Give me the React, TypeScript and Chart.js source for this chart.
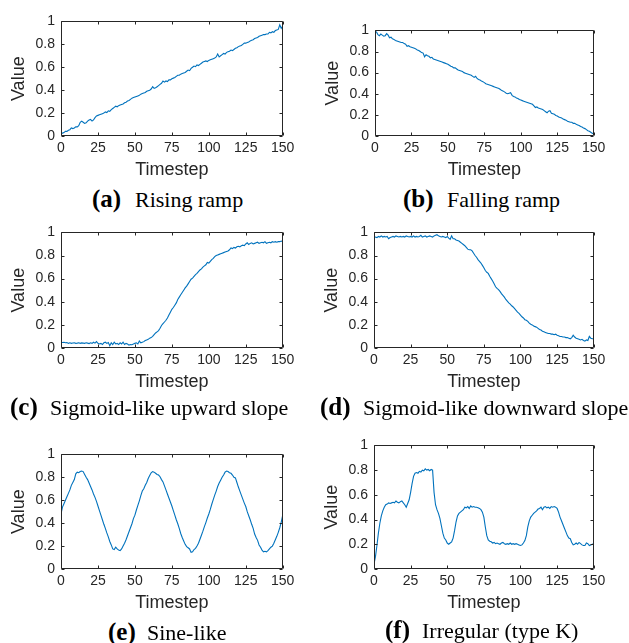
import React, { useEffect, useRef } from "react";
import { Chart, registerables } from "chart.js";

Chart.register(...registerables);

// ---------- data ----------
const timesteps: number[] = Array.from({ length: 151 }, (_, i) => i);
const xTicks = [0, 25, 50, 75, 100, 125, 150];
const xTickLabels = ["0", "25", "50", "75", "100", "125", "150"];
const yTicks = [0, 0.2, 0.4, 0.6, 0.8, 1];
const yTickLabels = ["0", "0.2", "0.4", "0.6", "0.8", "1"];

const risingRamp = [
  0.02, 0.025, 0.03, 0.04, 0.04, 0.05, 0.055, 0.07, 0.065, 0.07,
  0.08, 0.08, 0.09, 0.12, 0.13, 0.12, 0.11, 0.115, 0.13, 0.14,
  0.145, 0.13, 0.14, 0.16, 0.175, 0.18, 0.185, 0.19, 0.195, 0.2,
  0.21, 0.205, 0.22, 0.215, 0.23, 0.24, 0.25, 0.26, 0.255, 0.265,
  0.27, 0.275, 0.28, 0.29, 0.295, 0.305, 0.31, 0.32, 0.33, 0.335,
  0.34, 0.345, 0.35, 0.355, 0.365, 0.37, 0.375, 0.38, 0.39, 0.395,
  0.4, 0.41, 0.43, 0.415, 0.42, 0.43, 0.44, 0.45, 0.46, 0.48,
  0.47, 0.48, 0.475, 0.49, 0.49, 0.5, 0.505, 0.51, 0.52, 0.53,
  0.53, 0.54, 0.545, 0.55, 0.555, 0.565, 0.575, 0.57, 0.59, 0.6,
  0.61, 0.605, 0.62, 0.615, 0.625, 0.635, 0.645, 0.65, 0.655, 0.65,
  0.66, 0.665, 0.67, 0.675, 0.68, 0.69, 0.715, 0.69, 0.7, 0.71,
  0.72, 0.715, 0.73, 0.735, 0.74, 0.75, 0.745, 0.755, 0.765, 0.77,
  0.78, 0.785, 0.79, 0.8, 0.81, 0.81, 0.815, 0.82, 0.83, 0.835,
  0.84, 0.85, 0.855, 0.86, 0.87, 0.875, 0.88, 0.885, 0.885, 0.89,
  0.89, 0.905, 0.9, 0.91, 0.905, 0.92, 0.925, 0.93, 0.97, 0.94,
  0.96,
];

const fallingRamp = [
  0.99, 0.985, 0.96, 0.95, 0.965, 0.955, 0.945, 0.95, 0.97, 0.955,
  0.93, 0.935, 0.92, 0.915, 0.905, 0.9, 0.895, 0.89, 0.885, 0.885,
  0.875, 0.87, 0.85, 0.855, 0.845, 0.84, 0.835, 0.83, 0.825, 0.815,
  0.81, 0.8, 0.79, 0.785, 0.75, 0.77, 0.76, 0.755, 0.74, 0.745,
  0.73, 0.725, 0.72, 0.715, 0.71, 0.705, 0.7, 0.695, 0.69, 0.685,
  0.68, 0.67, 0.66, 0.655, 0.645, 0.645, 0.635, 0.625, 0.62, 0.615,
  0.61, 0.6, 0.595, 0.59, 0.585, 0.58, 0.575, 0.565, 0.555, 0.565,
  0.545, 0.535, 0.53, 0.52, 0.515, 0.505, 0.495, 0.49, 0.485, 0.48,
  0.475, 0.47, 0.465, 0.46, 0.455, 0.45, 0.44, 0.43, 0.425, 0.415,
  0.405, 0.4, 0.405, 0.41, 0.385, 0.375, 0.37, 0.36, 0.355, 0.345,
  0.34, 0.335, 0.33, 0.325, 0.32, 0.315, 0.31, 0.305, 0.3, 0.285,
  0.27, 0.275, 0.265, 0.26, 0.255, 0.25, 0.24, 0.23, 0.22, 0.235,
  0.24, 0.215, 0.21, 0.205, 0.195, 0.19, 0.18, 0.175, 0.17, 0.16,
  0.155, 0.15, 0.14, 0.135, 0.13, 0.13, 0.12, 0.12, 0.11, 0.105,
  0.1, 0.09, 0.085, 0.075, 0.07, 0.06, 0.05, 0.045, 0.035, 0.025,
  0.02,
];

const sigmoidUp = [
  0.05, 0.048, 0.05, 0.045, 0.047, 0.04, 0.045, 0.04, 0.043, 0.045,
  0.04, 0.042, 0.045, 0.04, 0.044, 0.042, 0.04, 0.045, 0.042, 0.038,
  0.045, 0.04, 0.05, 0.042, 0.055, 0.04, 0.035, 0.04, 0.03, 0.045,
  0.05, 0.04, 0.048, 0.02, 0.045, 0.03, 0.05, 0.035, 0.04, 0.03,
  0.045, 0.035, 0.05, 0.03, 0.04, 0.035, 0.025, 0.03, 0.028, 0.035,
  0.04, 0.045, 0.035, 0.06, 0.045, 0.05, 0.055, 0.065, 0.07, 0.075,
  0.085, 0.09, 0.1, 0.115, 0.13, 0.14, 0.15, 0.17, 0.195, 0.21,
  0.225, 0.24, 0.26, 0.285, 0.31, 0.335, 0.35, 0.37, 0.39, 0.42,
  0.44, 0.46, 0.48, 0.5, 0.52, 0.535, 0.555, 0.575, 0.595, 0.605,
  0.62, 0.635, 0.645, 0.66, 0.675, 0.685, 0.7, 0.71, 0.72, 0.74,
  0.735, 0.75, 0.765, 0.775, 0.79, 0.8, 0.805, 0.81, 0.815, 0.82,
  0.825, 0.83, 0.835, 0.84, 0.85, 0.865, 0.86, 0.87, 0.865, 0.875,
  0.88, 0.875, 0.885, 0.89, 0.885, 0.9, 0.91, 0.895, 0.905, 0.91,
  0.9, 0.905, 0.91, 0.915, 0.905, 0.91, 0.915, 0.91, 0.92, 0.905,
  0.91, 0.915, 0.91, 0.92, 0.915, 0.92, 0.915, 0.92, 0.92, 0.925,
  0.92,
];

const sigmoidDown = [
  0.955, 0.96, 0.955, 0.965, 0.96, 0.97, 0.96, 0.965, 0.96, 0.965,
  0.945, 0.955, 0.96, 0.965, 0.96, 0.97, 0.965, 0.96, 0.965, 0.96,
  0.965, 0.96, 0.97, 0.965, 0.96, 0.965, 0.96, 0.97, 0.96, 0.965,
  0.96, 0.965, 0.975, 0.96, 0.965, 0.97, 0.96, 0.965, 0.97, 0.965,
  0.96, 0.97, 0.975, 0.98, 0.97, 0.965, 0.96, 0.965, 0.96, 0.955,
  0.965, 0.95, 0.94, 0.97, 0.945, 0.945, 0.935, 0.93, 0.925, 0.915,
  0.905, 0.895, 0.885, 0.87, 0.855, 0.85, 0.85, 0.84, 0.82, 0.8,
  0.785, 0.765, 0.75, 0.735, 0.715, 0.695, 0.67, 0.655, 0.645, 0.62,
  0.6, 0.58, 0.555, 0.53, 0.515, 0.505, 0.49, 0.47, 0.455, 0.44,
  0.42, 0.405, 0.39, 0.38, 0.365, 0.355, 0.34, 0.325, 0.31, 0.3,
  0.285, 0.27, 0.26, 0.245, 0.24, 0.23, 0.215, 0.205, 0.2, 0.19,
  0.185, 0.18, 0.17, 0.16, 0.155, 0.145, 0.14, 0.135, 0.13, 0.125,
  0.125, 0.12, 0.12, 0.115, 0.12, 0.11, 0.105, 0.1, 0.1, 0.095,
  0.095, 0.09, 0.09, 0.085, 0.08, 0.09, 0.11, 0.095, 0.085, 0.08,
  0.075, 0.07, 0.075, 0.065, 0.06, 0.07, 0.065, 0.1, 0.085, 0.08,
  0.08,
];

const sineLike = [
  0.48, 0.54, 0.57, 0.6, 0.63, 0.66, 0.69, 0.73, 0.755, 0.78,
  0.83, 0.845, 0.84, 0.85, 0.855, 0.85, 0.825, 0.8, 0.78, 0.75,
  0.72, 0.69, 0.655, 0.625, 0.59, 0.55, 0.51, 0.47, 0.43, 0.39,
  0.355, 0.315, 0.28, 0.24, 0.21, 0.175, 0.17, 0.19, 0.175, 0.165,
  0.16, 0.175, 0.2, 0.225, 0.255, 0.29, 0.325, 0.36, 0.395, 0.44,
  0.47, 0.515, 0.555, 0.595, 0.64, 0.68, 0.7, 0.73, 0.755, 0.79,
  0.815, 0.84, 0.85, 0.845, 0.835, 0.825, 0.82, 0.805, 0.78, 0.76,
  0.725, 0.69, 0.655, 0.62, 0.585, 0.55, 0.51, 0.47, 0.43, 0.395,
  0.355, 0.31, 0.275, 0.245, 0.215, 0.195, 0.185, 0.175, 0.145, 0.15,
  0.17, 0.18, 0.2, 0.225, 0.26, 0.295, 0.33, 0.37, 0.405, 0.445,
  0.48, 0.52, 0.565, 0.605, 0.645, 0.68, 0.72, 0.75, 0.775, 0.8,
  0.82, 0.845, 0.855, 0.85, 0.84, 0.835, 0.82, 0.8, 0.795, 0.755,
  0.715, 0.68, 0.645, 0.61, 0.575, 0.545, 0.5, 0.465, 0.43, 0.39,
  0.355, 0.305, 0.275, 0.25, 0.21, 0.19, 0.165, 0.15, 0.155, 0.15,
  0.16, 0.175, 0.19, 0.2, 0.225, 0.255, 0.285, 0.32, 0.36, 0.41,
  0.47,
];

const irregularK = [
  0.04, 0.1, 0.19, 0.29, 0.37, 0.43, 0.47, 0.5, 0.52, 0.525,
  0.535, 0.53, 0.535, 0.54, 0.535, 0.55, 0.54, 0.535, 0.545, 0.55,
  0.535, 0.52, 0.5, 0.53, 0.56, 0.62, 0.69, 0.75, 0.775, 0.78,
  0.775, 0.79, 0.785, 0.8, 0.795, 0.81, 0.8, 0.805, 0.795, 0.805,
  0.8, 0.62, 0.52, 0.48, 0.45, 0.41, 0.35, 0.29, 0.25, 0.235,
  0.21, 0.2, 0.21, 0.22, 0.25, 0.31, 0.38, 0.43, 0.45, 0.46,
  0.47, 0.48, 0.5, 0.495, 0.505, 0.49, 0.51, 0.5, 0.505, 0.5,
  0.5, 0.495, 0.49, 0.48, 0.46, 0.42, 0.34, 0.27, 0.235, 0.225,
  0.22, 0.21, 0.215, 0.205, 0.21, 0.205, 0.2, 0.21, 0.215, 0.205,
  0.2, 0.205, 0.2, 0.21, 0.2, 0.205, 0.2, 0.205, 0.2, 0.195,
  0.19, 0.195, 0.21, 0.23, 0.27, 0.34, 0.39, 0.42, 0.435, 0.45,
  0.46, 0.47, 0.485, 0.49, 0.5, 0.48, 0.5, 0.505, 0.495, 0.5,
  0.49, 0.505, 0.5, 0.505, 0.5, 0.49, 0.46, 0.42, 0.39, 0.36,
  0.33, 0.3, 0.27, 0.25, 0.245, 0.215, 0.195, 0.2, 0.21, 0.2,
  0.215, 0.205, 0.195, 0.19, 0.19, 0.21, 0.205, 0.19, 0.195, 0.2,
  0.205,
];

// ---------- layout / style ----------
const AXIS_COLOR = "#262626";
const LINE_COLOR = "#0072BD";
const SANS = "'Liberation Sans', Arial, sans-serif";
const SERIF = "'Liberation Serif', 'Times New Roman', serif";

const Y_AXIS_W = 55;
const X_AXIS_H = 48;
const PAD_TOP = 12;
const PAD_RIGHT = 14;
const TAG_SIZE = 25;
const TEXT_SIZE = 22;

type PanelSpec = {
  tag: string;
  caption: string;
  values: number[];
  L: number; R: number; T: number; B: number;
  tagLeft: number; textLeft: number; capBase: number;
};

const panels: PanelSpec[] = [
  { tag: "(a)", caption: "Rising ramp", values: risingRamp, L: 61, R: 283, T: 19, B: 135, tagLeft: 92, textLeft: 135, capBase: 207 },
  { tag: "(b)", caption: "Falling ramp", values: fallingRamp, L: 375, R: 594, T: 28, B: 135, tagLeft: 403, textLeft: 447, capBase: 207 },
  { tag: "(c)", caption: "Sigmoid-like upward slope", values: sigmoidUp, L: 61, R: 283, T: 230, B: 347, tagLeft: 10, textLeft: 50, capBase: 415 },
  { tag: "(d)", caption: "Sigmoid-like downward slope", values: sigmoidDown, L: 374, R: 594, T: 230, B: 347, tagLeft: 320, textLeft: 363, capBase: 415 },
  { tag: "(e)", caption: "Sine-like", values: sineLike, L: 61, R: 283, T: 452, B: 568, tagLeft: 108, textLeft: 147, capBase: 640 },
  { tag: "(f)", caption: "Irregular (type K)", values: irregularK, L: 374, R: 594, T: 443, B: 568, tagLeft: 385, textLeft: 422, capBase: 638 },
];

const boxPlugin = {
  id: "matlabBox",
  afterDatasetsDraw(chart: any) {
    const { ctx, chartArea, scales } = chart;
    const { left, right, top, bottom } = chartArea;
    const xs = scales.x;
    const ys = scales.y;
    const l = Math.round(left) + 0.5;
    const r = Math.round(right) - 0.5;
    const t = Math.round(top) + 0.5;
    const b = Math.round(bottom) - 0.5;
    ctx.save();
    ctx.strokeStyle = AXIS_COLOR;
    ctx.lineWidth = 1;
    ctx.beginPath();
    ctx.rect(l, t, r - l, b - t);
    const tl = 3;
    xTicks.forEach((v) => {
      const px = Math.round(xs.getPixelForValue(v)) + 0.5;
      ctx.moveTo(px, b);
      ctx.lineTo(px, b - tl);
      ctx.moveTo(px, t);
      ctx.lineTo(px, t + tl);
    });
    yTicks.forEach((v) => {
      const py = Math.round(ys.getPixelForValue(v)) + 0.5;
      ctx.moveTo(l, py);
      ctx.lineTo(l + tl, py);
      ctx.moveTo(r, py);
      ctx.lineTo(r - tl, py);
    });
    ctx.stroke();
    ctx.restore();
  },
};

function Panel({ spec }: { spec: PanelSpec }) {
  const ref = useRef<HTMLCanvasElement | null>(null);
  const plotW = spec.R - spec.L + 1;
  const plotH = spec.B - spec.T + 1;
  const width = Y_AXIS_W + plotW + PAD_RIGHT;
  const height = PAD_TOP + plotH + X_AXIS_H;

  useEffect(() => {
    if (!ref.current) return;
    const chart = new Chart(ref.current, {
      type: "line",
      data: {
        datasets: [
          {
            data: timesteps.map((t, i) => ({ x: t, y: spec.values[i] })),
            borderColor: LINE_COLOR,
            borderWidth: 1.1,
            pointRadius: 0,
            fill: false,
            tension: 0,
          },
        ],
      },
      options: {
        animation: false,
        responsive: false,
        maintainAspectRatio: false,
        events: [],
        layout: { padding: { top: PAD_TOP, right: PAD_RIGHT, left: 0, bottom: 0 } },
        plugins: { legend: { display: false }, tooltip: { enabled: false } },
        scales: {
          x: {
            type: "linear",
            min: 0,
            max: 150,
            afterBuildTicks: (s: any) => {
              s.ticks = xTicks.map((v) => ({ value: v }));
            },
            afterFit: (s: any) => {
              s.height = X_AXIS_H;
            },
            grid: { display: false, drawTicks: false },
            border: { display: false },
            ticks: {
              font: { family: SANS, size: 14 },
              color: AXIS_COLOR,
              padding: 3.6,
              maxRotation: 0,
              minRotation: 0,
              autoSkip: false,
              callback: (_v: any, i: number) => xTickLabels[i],
            },
            title: {
              display: true,
              text: "Timestep",
              font: { family: SANS, size: 18 },
              color: AXIS_COLOR,
              padding: { top: 0, bottom: 3.2 },
            },
          },
          y: {
            type: "linear",
            min: 0,
            max: 1,
            afterBuildTicks: (s: any) => {
              s.ticks = yTicks.map((v) => ({ value: v }));
            },
            afterFit: (s: any) => {
              s.width = Y_AXIS_W;
            },
            grid: { display: false, drawTicks: false },
            border: { display: false },
            ticks: {
              font: { family: SANS, size: 14 },
              color: AXIS_COLOR,
              padding: 6,
              autoSkip: false,
              callback: (_v: any, i: number) => yTickLabels[i],
            },
            title: {
              display: true,
              text: "Value",
              font: { family: SANS, size: 18 },
              color: AXIS_COLOR,
              padding: { top: 2.2, bottom: 0 },
            },
          },
        },
      } as any,
      plugins: [boxPlugin],
    });
    return () => chart.destroy();
  }, [spec]);

  return (
    <canvas
      ref={ref}
      width={width}
      height={height}
      style={{
        position: "absolute",
        left: spec.L - Y_AXIS_W,
        top: spec.T - PAD_TOP,
        width,
        height,
        display: "block",
      }}
    />
  );
}

function Caption({ spec }: { spec: PanelSpec }) {
  const common: React.CSSProperties = {
    position: "absolute",
    fontFamily: SERIF,
    whiteSpace: "nowrap",
    color: "#000",
  };
  return (
    <>
      <div
        style={{
          ...common,
          left: spec.tagLeft,
          top: spec.capBase - 0.8375 * TAG_SIZE,
          fontSize: TAG_SIZE,
          lineHeight: `${TAG_SIZE}px`,
          fontWeight: "bold",
        }}
      >
        {spec.tag}
      </div>
      <div
        style={{
          ...common,
          left: spec.textLeft,
          top: spec.capBase - 0.8375 * TEXT_SIZE,
          fontSize: TEXT_SIZE,
          lineHeight: `${TEXT_SIZE}px`,
        }}
      >
        {spec.caption}
      </div>
    </>
  );
}

export default function App() {
  return (
    <div
      style={{
        position: "absolute",
        left: 0,
        top: 0,
        width: 629,
        height: 643,
        background: "#fff",
        overflow: "hidden",
      }}
    >
      {panels.map((p) => (
        <Panel key={p.tag} spec={p} />
      ))}
      {panels.map((p) => (
        <Caption key={"c" + p.tag} spec={p} />
      ))}
    </div>
  );
}
